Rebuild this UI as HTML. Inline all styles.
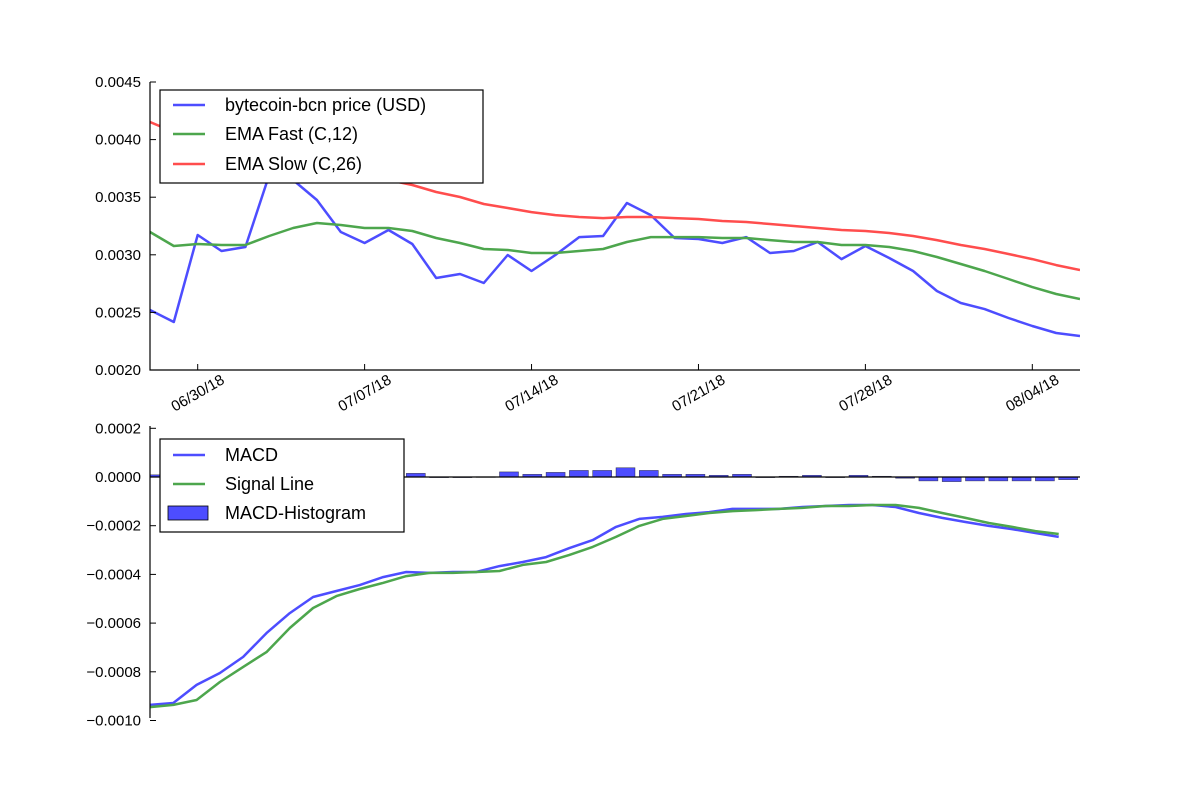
<!DOCTYPE html>
<html><head><meta charset="utf-8"><style>
html,body{margin:0;padding:0;background:#fff}
svg{display:block;font-family:"Liberation Sans","DejaVu Sans",sans-serif}
</style></head><body>
<svg id="chart" width="1200" height="800" viewBox="0 0 1200 800" xmlns="http://www.w3.org/2000/svg"></svg>
<script>
// ---- data (price units 1e-4 USD, MACD units 1e-4) ----
const dateTicks = ["06/30/18","07/07/18","07/14/18","07/21/18","07/28/18","08/04/18"];
const dateTickIdx = [2,9,16,23,30,37];
const priceTicks = [0.0020,0.0025,0.0030,0.0035,0.0040,0.0045];
const priceTickLabels = ["0.0020","0.0025","0.0030","0.0035","0.0040","0.0045"];
const macdTicks = [-0.0010,-0.0008,-0.0006,-0.0004,-0.0002,0.0000,0.0002];
const macdTickLabels = ["\u22120.0010","\u22120.0008","\u22120.0006","\u22120.0004","\u22120.0002","0.0000","0.0002"];
const price = [25.21,24.17,31.72,30.33,30.68,36.93,36.49,34.76,31.98,31.02,32.15,30.94,27.99,28.33,27.55,29.98,28.59,29.98,31.54,31.63,34.50,33.45,31.46,31.37,31.02,31.54,30.16,30.33,31.11,29.63,30.76,29.72,28.59,26.86,25.82,25.29,24.51,23.82,23.21,22.95];
const emaFast = [31.98,30.76,30.94,30.85,30.85,31.63,32.33,32.76,32.59,32.33,32.33,32.07,31.46,31.02,30.50,30.42,30.16,30.16,30.33,30.50,31.11,31.54,31.54,31.54,31.46,31.46,31.28,31.11,31.11,30.85,30.85,30.68,30.33,29.81,29.20,28.59,27.90,27.20,26.60,26.16];
const emaSlow = [41.53,40.66,39.96,39.36,38.84,38.49,37.97,37.53,37.19,36.84,36.49,36.06,35.45,35.02,34.41,34.06,33.71,33.45,33.28,33.19,33.28,33.28,33.19,33.11,32.93,32.85,32.67,32.50,32.33,32.15,32.07,31.89,31.63,31.28,30.85,30.50,30.07,29.63,29.11,28.68];
const macd = [-9.36,-9.28,-8.54,-8.05,-7.39,-6.41,-5.59,-4.93,-4.68,-4.44,-4.11,-3.90,-3.94,-3.90,-3.90,-3.66,-3.49,-3.29,-2.92,-2.59,-2.05,-1.72,-1.64,-1.52,-1.44,-1.31,-1.31,-1.31,-1.23,-1.19,-1.15,-1.15,-1.23,-1.48,-1.68,-1.85,-2.01,-2.14,-2.30,-2.46];
const signal = [-9.45,-9.36,-9.16,-8.42,-7.80,-7.19,-6.20,-5.38,-4.89,-4.60,-4.35,-4.07,-3.94,-3.94,-3.90,-3.86,-3.61,-3.49,-3.20,-2.87,-2.46,-2.01,-1.72,-1.60,-1.48,-1.40,-1.36,-1.31,-1.27,-1.19,-1.19,-1.15,-1.15,-1.27,-1.48,-1.68,-1.89,-2.05,-2.22,-2.34];
const hist = [0.09,0.08,0.62,0.37,0.41,0.78,0.61,0.45,0.21,0.16,0.24,0.15,0,-0.01,0.01,0.21,0.11,0.19,0.27,0.27,0.38,0.27,0.11,0.11,0.07,0.11,0,0.03,0.07,0,0.07,0.03,-0.05,-0.16,-0.19,-0.16,-0.16,-0.16,-0.16,-0.11];

const NS="http://www.w3.org/2000/svg";
const svg=document.getElementById('chart');
function mk(tag,attrs,parent){const e=document.createElementNS(NS,tag);for(const k in attrs)e.setAttribute(k,attrs[k]);(parent||svg).appendChild(e);return e;}

const xTop=i=>150+i*(930/39);
const yTop=v=>370-(v-0.0020)/0.0025*288;
const xBot=i=>150+i*23.3;
const yBot=v=>477-v/0.0002*48.7;

const BLUE="#4d4dff",GREEN="#4da64d",RED="#ff4d4d";

const topG=mk('g',{});


function drawLine(arr,xf,yf,scale,color,name,parent){
  const d=arr.map((v,i)=>(i?'L':'M')+xf(i).toFixed(1)+' '+yf(v*scale).toFixed(1)).join(' ');
  const p=mk('path',{d:d,fill:'none',stroke:color,'stroke-width':2.5,'stroke-linejoin':'round'},parent);
  
  
  return p;
}
const clipT=mk('clipPath',{id:'clipT'});mk('rect',{x:150,y:82,width:930,height:288},clipT);
const gT=mk('g',{'clip-path':'url(#clipT)'},topG);
drawLine(price,xTop,yTop,1e-4,BLUE,'price-line',gT);
drawLine(emaFast,xTop,yTop,1e-4,GREEN,'ema-fast-line',gT);
drawLine(emaSlow,xTop,yTop,1e-4,RED,'ema-slow-line',gT);
mk('path',{d:'M150 82 L150 370 L1080 370',fill:'none',stroke:'#000','stroke-width':1.2},topG);
priceTicks.forEach((v,i)=>{
  const y=yTop(v);
  mk('line',{x1:150,x2:156,y1:y,y2:y,stroke:'#000'},topG);
  const t=mk('text',{x:141,y:y+5,'text-anchor':'end','font-size':15},topG);
  t.textContent=priceTickLabels[i];
  
  
});
dateTickIdx.forEach((idx,i)=>{
  const x=xTop(idx);
  mk('line',{x1:x,x2:x,y1:370,y2:364,stroke:'#000'},topG);
  const t=mk('text',{x:x,y:398,'text-anchor':'middle','font-size':15,transform:`rotate(-30 ${x} 393)`},topG);
  t.textContent=dateTicks[i];
  
  
});
const lg=mk('g',{});


mk('rect',{x:160,y:90,width:323,height:93,fill:'#fff',stroke:'#000','stroke-width':1.2},lg);
[["bytecoin-bcn price (USD)",BLUE,105],["EMA Fast (C,12)",GREEN,134],["EMA Slow (C,26)",RED,164]].forEach(e=>{
  mk('line',{x1:173,x2:205,y1:e[2],y2:e[2],stroke:e[1],'stroke-width':2.5},lg);
  const t=mk('text',{x:225,y:e[2]+6,'font-size':18},lg);
  t.textContent=e[0];
  
  
});

const bot=mk('g',{});


hist.forEach((v,i)=>{
  const y0=yBot(0),y1=yBot(v*1e-4);
  const r=mk('rect',{x:xBot(i),y:Math.min(y0,y1),width:19,height:Math.max(Math.abs(y1-y0),0.6),fill:BLUE,stroke:'#000','stroke-width':0.6,'stroke-opacity':0.6},bot);
  
  
});
mk('line',{x1:150,x2:1080,y1:yBot(0),y2:yBot(0),stroke:'#000','stroke-width':1.2},bot);
drawLine(macd,xBot,yBot,1e-4,BLUE,'macd-line',bot);
drawLine(signal,xBot,yBot,1e-4,GREEN,'signal-line',bot);
mk('line',{x1:150,x2:150,y1:426,y2:718,stroke:'#000','stroke-width':1.2},bot);
macdTicks.forEach((v,i)=>{
  const y=yBot(v);
  mk('line',{x1:150,x2:156,y1:y,y2:y,stroke:'#000'},bot);
  const t=mk('text',{x:141,y:y+5,'text-anchor':'end','font-size':15},bot);
  t.textContent=macdTickLabels[i];
  
  
});
const lb=mk('g',{});


mk('rect',{x:160,y:439,width:244,height:93,fill:'#fff',stroke:'#000','stroke-width':1.2},lb);
[["MACD",BLUE,455],["Signal Line",GREEN,484]].forEach(e=>{
  mk('line',{x1:173,x2:205,y1:e[2],y2:e[2],stroke:e[1],'stroke-width':2.5},lb);
  const t=mk('text',{x:225,y:e[2]+6,'font-size':18},lb);
  t.textContent=e[0];
  
  
});
mk('rect',{x:168,y:506,width:40,height:14,fill:BLUE,stroke:'#000','stroke-width':0.8},lb);
const th=mk('text',{x:225,y:519,'font-size':18},lb);
th.textContent="MACD-Histogram";


</script>
</body></html>
